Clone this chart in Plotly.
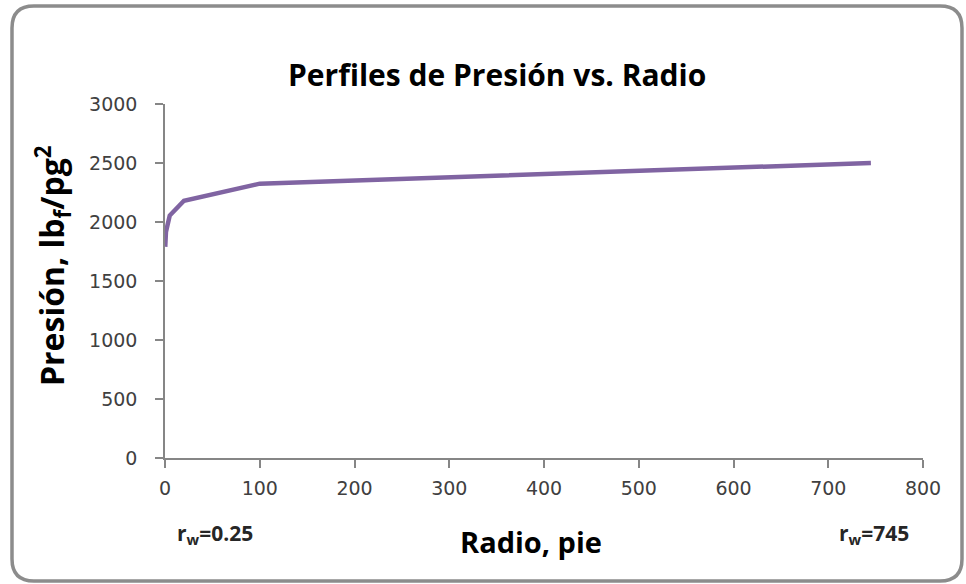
import plotly.graph_objects as go

# Data
radio = [0.25, 1, 5, 20, 100, 745]
presion = [1790, 1915, 2055, 2180, 2325, 2500]

x_ticks = [0, 100, 200, 300, 400, 500, 600, 700, 800]
y_ticks = [0, 500, 1000, 1500, 2000, 2500, 3000]

W, H = 966, 584
L, R, T, B = 165, 43, 104, 126
PW, PH = W - L - R, H - T - B

def px(x):
    return (x - L) / PW

def py(y):
    return (H - B - y) / PH

fig = go.Figure()
fig.add_trace(go.Scatter(
    x=radio, y=presion, mode="lines",
    line=dict(color="#8064A2", width=4.5),
    hoverinfo="skip", showlegend=False,
))

tickfont = dict(family="DejaVu Sans, Open Sans, sans-serif", size=19, color="#404040")
fig.update_layout(
    width=W, height=H,
    margin=dict(l=L, r=R, t=T, b=B),
    paper_bgcolor="white", plot_bgcolor="white",
    xaxis=dict(range=[0, 800], tickvals=x_ticks, showgrid=False, zeroline=False,
               showline=True, linecolor="#868686", linewidth=1.5,
               ticks="outside", ticklen=8, tickcolor="#868686", tickwidth=1.5,
               tickfont=tickfont, ticklabelstandoff=4, fixedrange=True),
    yaxis=dict(range=[0, 3000], tickvals=y_ticks, showgrid=False, zeroline=False,
               showline=True, linecolor="#868686", linewidth=1.5,
               ticks="outside", ticklen=8, tickcolor="#868686", tickwidth=1.5,
               tickfont=tickfont, ticklabelstandoff=14, fixedrange=True),
)

bold = "Open Sans, Liberation Sans, sans-serif"
fig.add_annotation(xref="paper", yref="paper", x=px(497), y=py(75),
                   text="<b>Perfiles de Presión vs. Radio</b>", showarrow=False,
                   font=dict(family=bold, size=30, color="black"),
                   xanchor="center", yanchor="middle")
fig.add_annotation(xref="paper", yref="paper", x=px(52), y=py(266),
                   text="<b>Presión, lb<sub>f</sub>/pg<sup>2</sup></b>", showarrow=False,
                   textangle=-90, font=dict(family=bold, size=32, color="black"),
                   xanchor="center", yanchor="middle")
fig.add_annotation(xref="paper", yref="paper", x=px(531), y=py(541),
                   text="<b>Radio, pie</b>", showarrow=False,
                   font=dict(family=bold, size=29, color="black"),
                   xanchor="center", yanchor="middle")
fig.add_annotation(xref="paper", yref="paper", x=px(215), y=py(534),
                   text="<b>r<sub>w</sub>=0.25</b>", showarrow=False,
                   font=dict(family=bold, size=21, color="#262626"),
                   xanchor="center", yanchor="middle")
fig.add_annotation(xref="paper", yref="paper", x=px(874), y=py(534),
                   text="<b>r<sub>w</sub>=745</b>", showarrow=False,
                   font=dict(family=bold, size=21, color="#262626"),
                   xanchor="center", yanchor="middle")

# Rounded outer border
x0, y0, x1, y1, r = 12, 6, 962, 581, 22
pts = [
    ("M", px(x0 + r), py(y0)),
    ("L", px(x1 - r), py(y0)),
    ("Q", px(x1), py(y0), px(x1), py(y0 + r)),
    ("L", px(x1), py(y1 - r)),
    ("Q", px(x1), py(y1), px(x1 - r), py(y1)),
    ("L", px(x0 + r), py(y1)),
    ("Q", px(x0), py(y1), px(x0), py(y1 - r)),
    ("L", px(x0), py(y0 + r)),
    ("Q", px(x0), py(y0), px(x0 + r), py(y0)),
]
path = ""
for p in pts:
    cmd = p[0]
    coords = p[1:]
    path += cmd + " " + " ".join(
        f"{coords[i]:.5f},{coords[i+1]:.5f}" for i in range(0, len(coords), 2)) + " "
path += "Z"
fig.add_shape(type="path", xref="paper", yref="paper", path=path,
              line=dict(color="#8C8C8C", width=3.5), layer="below")

fig.write_html("out.html", config={"displayModeBar": False},
               post_script="document.body.style.margin='0';document.body.style.overflow='hidden';")
